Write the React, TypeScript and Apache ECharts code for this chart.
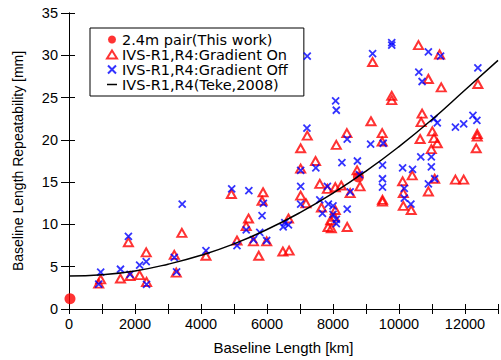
import React, { useEffect, useRef } from "react";
import * as echarts from "echarts";

const pairPoints: [number, number][] = [
  [30, 1.2],
  [8770, 15.6],
];

const gradientOn: [number, number][] = [
  [900, 3.0], [960, 3.5], [1560, 3.6], [1850, 3.9], [2140, 4.0], [2350, 3.2], [2340, 6.7], [1800, 7.9],
  [3190, 6.4], [3250, 4.3], [3420, 9.0], [4150, 6.3],
  [4920, 13.6], [5880, 13.8], [5850, 12.8], [5440, 10.7], [5370, 9.8], [5090, 8.1], [5590, 8.0], [5990, 8.0],
  [5750, 6.3], [6480, 6.8], [6670, 6.9], [6650, 10.7],
  [7020, 19.0], [7020, 16.6], [7470, 17.5], [7020, 13.4], [7180, 12.5], [7600, 14.8], [7830, 14.2], [8070, 14.4],
  [8250, 14.6], [7650, 12.0], [8070, 11.7], [8040, 10.9], [7930, 10.5], [7850, 9.7], [7950, 9.55], [8430, 9.7],
  [8730, 16.4], [8820, 14.5], [8520, 13.7], [9500, 12.9], [9500, 12.7], [10110, 15.1], [10130, 13.7], [10130, 12.2],
  [10370, 11.7], [10400, 15.8], [10980, 18.9], [10890, 13.9], [11080, 15.4], [11710, 15.3], [11960, 15.3], [12340, 19.0],
  [7220, 20.5], [8420, 20.8], [8100, 19.4], [9150, 22.2], [9490, 20.8], [9490, 19.8], [9780, 25.2], [9780, 24.7],
  [9200, 29.2], [10590, 31.2], [11230, 30.1], [10890, 27.2], [11280, 26.2], [12390, 26.6], [10700, 23.1], [10670, 22.1],
  [11010, 21.0], [11060, 20.2], [11160, 19.6], [10640, 20.1], [12370, 20.7], [12370, 20.4],
];

const gradientOff: [number, number][] = [
  [900, 2.95], [960, 4.35], [1560, 4.7], [1850, 4.1], [2140, 5.2], [2340, 5.6], [2350, 2.9], [1800, 8.6],
  [3190, 6.1], [3260, 4.4], [3430, 12.4], [4150, 6.9],
  [4930, 14.2], [5450, 14.0], [5890, 12.5], [5850, 11.05], [5370, 9.35], [5780, 9.05], [5090, 7.5], [5590, 8.2],
  [5990, 8.1], [6490, 9.7], [6650, 9.95], [6540, 10.2],
  [7020, 16.4], [7480, 16.7], [7020, 14.5], [7020, 12.4], [7600, 12.9], [7680, 11.3], [7830, 14.5], [7860, 12.4],
  [8000, 12.2], [8000, 11.2], [8100, 10.6], [8100, 10.1], [8430, 11.8], [8270, 17.3], [8740, 17.5], [8800, 15.9],
  [8520, 13.85], [9500, 17.0], [9500, 15.4], [9500, 14.4], [10110, 16.7], [10160, 14.25], [10160, 13.1], [10360, 12.4],
  [10410, 16.5], [10660, 18.0], [10980, 18.0], [10980, 16.8], [10890, 14.8], [11080, 15.4],
  [7210, 21.4], [8430, 20.1], [9140, 19.5], [9520, 19.6], [8080, 24.6], [8100, 23.5], [7220, 29.9], [9200, 30.2],
  [9780, 31.5], [9780, 31.2], [10890, 30.4], [11260, 29.9], [10600, 28.0], [10700, 26.9], [12390, 28.5], [11060, 22.5],
  [11160, 22.0], [11710, 21.5], [11960, 21.9], [12240, 22.9], [12360, 22.3],
];

const tekeCurve: [number, number][] = [
  [0, 3.9], [1000, 4.05], [2000, 4.5], [3000, 5.3], [4000, 6.35], [5000, 7.7], [6000, 9.4],
  [7000, 11.4], [8000, 13.7], [9000, 16.3], [10000, 19.2], [11000, 22.4], [12000, 25.9], [13000, 29.4],
];

const seriesNames = [
  "2.4m pair(This work)",
  "IVS-R1,R4:Gradient On",
  "IVS-R1,R4:Gradient Off",
  "IVS-R1,R4(Teke,2008)",
];

const FONT = "'Liberation Sans', Arial, sans-serif";
const LEGEND_FONT = "'DejaVu Sans', 'Liberation Sans', sans-serif";

export default function App() {
  const ref = useRef<HTMLDivElement>(null);
  useEffect(() => {
    if (!ref.current) return;
    const chart = echarts.init(ref.current, undefined, { renderer: "svg" });
    const axisLine = { show: true, lineStyle: { color: "#000", width: 1 } };
    chart.setOption({
      animation: false,
      backgroundColor: "#fff",
      textStyle: { fontFamily: FONT },
      grid: { left: 69, top: 13, right: 0, bottom: 51, containLabel: false },
      legend: {
        orient: "vertical",
        left: 90,
        top: 28,
        padding: [4, 16, 4, 16],
        itemGap: 0,
        itemWidth: 10,
        itemHeight: 8,
        borderColor: "#000",
        borderWidth: 1,
        backgroundColor: "#fff",
        data: [
          { name: seriesNames[0] },
          { name: seriesNames[1] },
          { name: seriesNames[2] },
          { name: seriesNames[3], icon: "path://M0,0L10,0L10,1.5L0,1.5Z" },
        ],
        textStyle: { fontSize: 14.5, color: "#000", fontFamily: LEGEND_FONT, lineHeight: 15 },
      },
      xAxis: [
        {
          type: "value",
          min: 0,
          max: 13000,
          interval: 1000,
          position: "bottom",
          name: "Baseline Length [km]",
          nameLocation: "middle",
          nameGap: 31,
          nameTextStyle: { fontSize: 15, color: "#000", fontFamily: FONT },
          axisLine,
          axisTick: { show: true, inside: true, length: 5, lineStyle: { color: "#000" } },
          axisLabel: {
            fontSize: 14.5,
            color: "#000",
            margin: 7,
            fontFamily: FONT,
            formatter: (v: number) => (v % 2000 === 0 ? String(v) : ""),
          },
          splitLine: { show: false },
        },
        {
          type: "value",
          min: 0,
          max: 13000,
          interval: 1000,
          position: "top",
          axisLine,
          axisTick: { show: true, inside: true, length: 5, lineStyle: { color: "#000" } },
          axisLabel: { show: false },
          splitLine: { show: false },
        },
      ],
      yAxis: [
        {
          type: "value",
          min: 0,
          max: 35,
          interval: 5,
          position: "left",
          name: "Baseline Length Repeatability [mm]",
          nameLocation: "middle",
          nameGap: 44,
          nameTextStyle: { fontSize: 14, color: "#000", fontFamily: FONT },
          axisLine,
          axisTick: { show: true, inside: true, length: 6, lineStyle: { color: "#000" } },
          axisLabel: { fontSize: 14.5, color: "#000", margin: 11, fontFamily: FONT },
          splitLine: { show: false },
        },
        {
          type: "value",
          min: 0,
          max: 35,
          interval: 5,
          position: "right",
          axisLine,
          axisTick: { show: true, inside: true, length: 8, lineStyle: { color: "#000" } },
          axisLabel: { show: false },
          splitLine: { show: false },
        },
      ],
      series: [
        {
          name: seriesNames[0],
          type: "scatter",
          data: pairPoints,
          symbol: "circle",
          symbolSize: 11,
          itemStyle: { color: "#ff0000" },
          z: 2,
        },
        {
          name: seriesNames[1],
          type: "scatter",
          data: gradientOn,
          symbol: "triangle",
          symbolSize: [9, 8],
          itemStyle: { color: "rgba(255,255,255,0)", borderColor: "#ff0000", borderWidth: 2 },
          z: 3,
        },
        {
          name: seriesNames[2],
          type: "scatter",
          data: gradientOff,
          symbol: "path://M0,0L10,10M10,0L0,10",
          symbolSize: 7,
          itemStyle: { color: "rgba(255,255,255,0)", borderColor: "#0000ff", borderWidth: 1.8 },
          z: 4,
        },
        {
          name: seriesNames[3],
          type: "line",
          data: tekeCurve,
          smooth: true,
          symbol: "none",
          itemStyle: { color: "#000" },
          lineStyle: { color: "#000", width: 1.5 },
          z: 5,
        },
      ],
    });
    return () => chart.dispose();
  }, []);
  return (
    <div
      ref={ref}
      style={{ position: "absolute", left: 0, top: 0, width: 501, height: 360 }}
    />
  );
}
